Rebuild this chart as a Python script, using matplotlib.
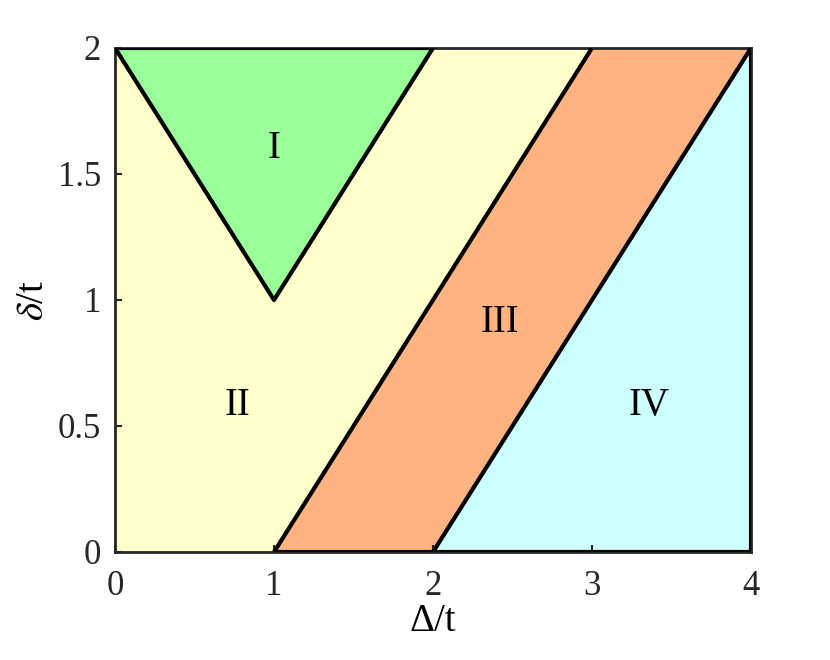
import matplotlib
matplotlib.use("Agg")
import matplotlib.pyplot as plt
from matplotlib.patches import Polygon

plt.rcParams['font.family'] = ['Liberation Serif', 'DejaVu Serif']
plt.rcParams['mathtext.fontset'] = 'stix'

# region vertices (Delta/t, delta/t)
region_I = [(0, 2), (2, 2), (1, 1)]
region_II = [(0, 0), (1, 0), (3, 2), (2, 2), (1, 1), (0, 2)]
region_III = [(1, 0), (2, 0), (4, 2), (3, 2)]
region_IV = [(2, 0), (4, 0), (4, 2)]
colors = ['#99FF99', '#FFFFCC', '#FFB380', '#CCFFFF']
labels = ['I', 'II', 'III', 'IV']
label_pos = [(1.0, 1.6), (0.77, 0.58), (2.42, 0.91), (3.36, 0.58)]

# boundary lines
boundaries = [
    ([0, 1, 2], [2, 1, 2]),
    ([0, 2], [2, 2]),
    ([1, 3], [0, 2]),
    ([2, 4], [0, 2]),
    ([1, 4], [0, 0]),
    ([4, 4], [0, 2]),
]

fig = plt.figure(figsize=(8.3, 6.6), dpi=100)
ax = fig.add_axes([115/830, 1-552/660, (751-115)/830, (552-48)/660])

for verts, c in zip([region_I, region_II, region_III, region_IV], colors):
    ax.add_patch(Polygon(verts, closed=True, facecolor=c, edgecolor='none', zorder=1))

for xs, ys in boundaries:
    ax.plot(xs, ys, color='black', lw=3, solid_capstyle='butt', zorder=3)

for lab, (x, y) in zip(labels, label_pos):
    ax.text(x, y, lab, fontsize=28, ha='center', va='center', zorder=4)

ax.set_xlim(0, 4)
ax.set_ylim(0, 2)
ax.set_xticks([0, 1, 2, 3, 4])
ax.set_yticks([0, 0.5, 1, 1.5, 2])
ax.set_xticklabels(['0', '1', '2', '3', '4'])
ax.set_yticklabels(['0', '0.5', '1', '1.5', '2'])
ax.tick_params(direction='in', length=5, width=1.5, labelsize=25, colors='#262626')
ax.tick_params(axis='x', pad=13)
ax.tick_params(axis='y', pad=10)
for s in ax.spines.values():
    s.set_color('#262626')
    s.set_linewidth(2)
    s.set_zorder(2)
ax.set_xlabel('Δ/t', fontsize=28, labelpad=0)
ax.set_ylabel(r'$\delta$/t', fontsize=28, labelpad=4)

fig.savefig('out.png', dpi=100)
